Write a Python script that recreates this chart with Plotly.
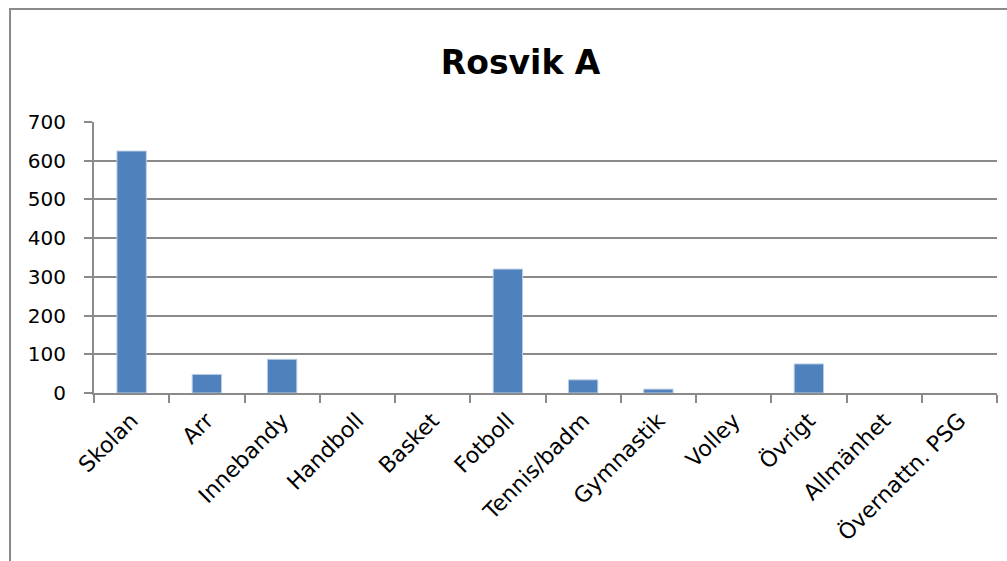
import plotly.graph_objects as go

categories = ["Skolan", "Arr", "Innebandy", "Handboll", "Basket", "Fotboll",
              "Tennis/badm", "Gymnastik", "Volley", "Övrigt", "Allmänhet", "Övernattn. PSG"]
values = [625, 48, 87, 0, 0, 320, 34, 10, 0, 75, 0, 0]
y_ticks = [0, 100, 200, 300, 400, 500, 600, 700]
title_text = "Rosvik A"

FONT = "DejaVu Sans"
GRID = "#8a8a8a"

fig = go.Figure(go.Bar(
    x=categories, y=values,
    marker=dict(color="#4F81BD",
                line=dict(color="#b9cde5", width=[1 if v > 0 else 0 for v in values])),
    hoverinfo="skip",
))

fig.update_layout(
    width=1007, height=561,
    margin=dict(l=94, r=10, t=122, b=168),
    paper_bgcolor="white", plot_bgcolor="white",
    bargap=0.61,
    showlegend=False,
    title=dict(text="<b>" + title_text + "</b>", x=0.517, xanchor="center",
               y=0.889, yanchor="middle",
               font=dict(family=FONT, size=33, color="black")),
    font=dict(family=FONT, size=20, color="black"),
)

fig.update_xaxes(
    type="category", tickangle=-45, tickson="boundaries",
    ticks="outside", ticklen=8, tickcolor=GRID, tickwidth=2,
    showline=True, linecolor=GRID, linewidth=2,
    showgrid=False, tickfont=dict(family=FONT, size=22, color="black"),
    ticklabelstandoff=4,
)
fig.update_yaxes(
    range=[0, 700], tickvals=y_ticks, ticks="outside", ticklen=8,
    tickcolor=GRID, tickwidth=2,
    showline=True, linecolor=GRID, linewidth=2,
    showgrid=True, gridcolor=GRID, gridwidth=2, zeroline=False,
    tickfont=dict(family=FONT, size=20, color="black"),
    ticklabelstandoff=14,
)

# outer chart border (partially visible, cropped at right/bottom)
fig.add_shape(type="rect", xref="paper", yref="paper",
              x0=-0.093, x1=1.2, y0=-1.0, y1=1.417,
              line=dict(color="#8a8a8a", width=2), layer="below")

fig.write_html("out.html", config={"displayModeBar": False},
               post_script="document.body.style.margin='0';document.body.style.padding='0';")
